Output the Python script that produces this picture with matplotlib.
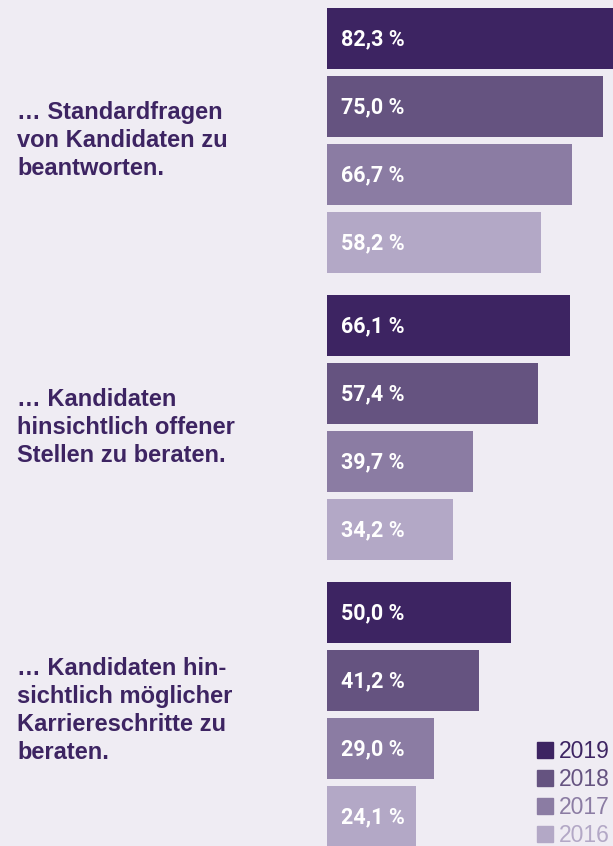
import matplotlib.pyplot as plt
from matplotlib.patches import Rectangle

# data
questions = ['… Standardfragen\nvon Kandidaten zu\nbeantworten.',
             '… Kandidaten\nhinsichtlich offener\nStellen zu beraten.',
             '… Kandidaten hin-\nsichtlich möglicher\nKarriereschritte zu\nberaten.']
years = ['2019', '2018', '2017', '2016']
values = [[82.3, 75.0, 66.7, 58.2],
          [66.1, 57.4, 39.7, 34.2],
          [50.0, 41.2, 29.0, 24.1]]
colors = ['#3d2462', '#655380', '#8b7ca3', '#b3a8c6']
bg = '#efecf3'

W, H = 613, 846
x0 = 327          # pixel where bars start
scale = 3.68      # pixels per percent

fig = plt.figure(figsize=(W / 100, H / 100), dpi=100, facecolor=bg)
ax = fig.add_axes([0, 0, 1, 1])
ax.set_facecolor(bg)
ax.set_xlim(-x0 / scale, (W - x0) / scale)
ax.set_ylim(H, 0)
ax.axis('off')

bar_h = 61
pitch = 68
group_pitch = 287
top0 = 8

for g, q in enumerate(questions):
    gtop = top0 + g * group_pitch
    for i, v in enumerate(values[g]):
        yc = gtop + i * pitch + bar_h / 2
        ax.barh(yc, v, height=bar_h, left=0, color=colors[i])
        ax.text(14 / scale, yc + 1, ('%.1f' % v).replace('.', ',') + ' %',
                color='white', fontsize=15.5, fontweight='bold',
                family=['Roboto', 'DejaVu Sans'], va='center', ha='left')
    gc = gtop + (3 * pitch + bar_h) / 2
    if g == 2:
        gc -= 4
    ax.text(-x0 / scale + 17 / scale, gc, q, color='#3d2462', fontsize=17,
            fontweight='bold', family='Liberation Sans', va='center', ha='left',
            linespacing=1.27)

# legend
for i, y in enumerate(years):
    yc = 750 + i * 28
    ax.add_patch(Rectangle(((537 - x0) / scale, yc - 8), 16 / scale, 16,
                           color=colors[i], clip_on=False))
    ax.text((559 - x0) / scale, yc + 1, y, color=colors[i], fontsize=16.5,
            family='Liberation Sans', va='center', ha='left')

fig.savefig('out.png', dpi=100, facecolor=bg)
